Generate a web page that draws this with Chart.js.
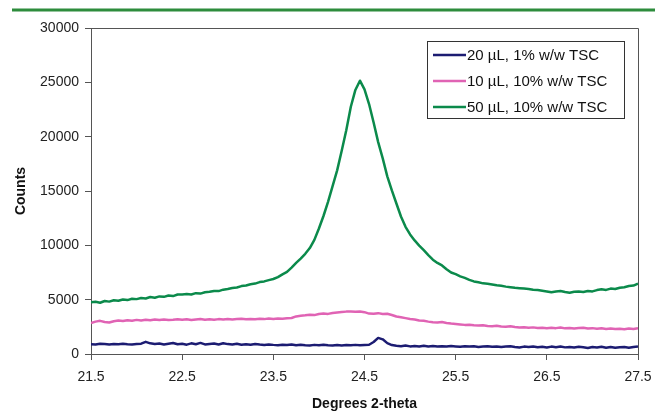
<!DOCTYPE html>
<html>
<head>
<meta charset="utf-8">
<title>XRD patterns</title>
<script src="https://cdn.jsdelivr.net/npm/chart.js@4.4.1/dist/chart.umd.min.js"></script>
<style>
  html, body { margin: 0; padding: 0; background: #fff; }
  #wrap { width: 655px; height: 412px; }
</style>
</head>
<body>
<div id="wrap"><canvas id="xrdChart" width="655" height="412"></canvas></div>
<script>
// scan positions, degrees 2-theta (0.05 step)
const degrees = [
  21.5, 21.55, 21.6, 21.65, 21.7, 21.75, 21.8, 21.85, 21.9, 21.95,
  22.0, 22.05, 22.1, 22.15, 22.2, 22.25, 22.3, 22.35, 22.4, 22.45,
  22.5, 22.55, 22.6, 22.65, 22.7, 22.75, 22.8, 22.85, 22.9, 22.95,
  23.0, 23.05, 23.1, 23.15, 23.2, 23.25, 23.3, 23.35, 23.4, 23.45,
  23.5, 23.55, 23.6, 23.65, 23.7, 23.75, 23.8, 23.85, 23.9, 23.95,
  24.0, 24.05, 24.1, 24.15, 24.2, 24.25, 24.3, 24.35, 24.4, 24.45,
  24.5, 24.55, 24.6, 24.65, 24.7, 24.75, 24.8, 24.85, 24.9, 24.95,
  25.0, 25.05, 25.1, 25.15, 25.2, 25.25, 25.3, 25.35, 25.4, 25.45,
  25.5, 25.55, 25.6, 25.65, 25.7, 25.75, 25.8, 25.85, 25.9, 25.95,
  26.0, 26.05, 26.1, 26.15, 26.2, 26.25, 26.3, 26.35, 26.4, 26.45,
  26.5, 26.55, 26.6, 26.65, 26.7, 26.75, 26.8, 26.85, 26.9, 26.95,
  27.0, 27.05, 27.1, 27.15, 27.2, 27.25, 27.3, 27.35, 27.4, 27.45,
  27.5
];

// 20 uL, 1% w/w TSC
const counts20uL1 = [
  900, 880, 950, 920, 870, 910, 890, 940, 900, 870,
  920, 950, 1120, 980, 930, 960, 880, 950, 1010, 900,
  940, 860, 980, 900, 1020, 880, 930, 960, 870, 990,
  910, 880, 940, 860, 900, 850, 920, 870, 830, 880,
  840, 810, 860, 820, 870, 800, 850, 810, 790, 840,
  800, 860, 810, 780, 830, 790, 820, 800, 840, 800,
  830, 850, 1100, 1480, 1350, 1000, 820, 760, 720, 780,
  700, 740, 690, 760, 700, 730, 680, 720, 690, 740,
  700, 660, 720, 680, 710, 650, 690, 720, 660, 700,
  640, 680, 710, 650, 600, 680, 640, 690, 620, 660,
  600, 680, 630, 690, 610, 650, 590, 660, 620, 560,
  640, 600, 670, 580, 640, 570, 620, 650, 580, 640,
  700
];

// 10 uL, 10% w/w TSC
const counts10uL10 = [
  2850, 2980, 3050, 2950, 2900, 3020, 3080, 3030, 3110, 3060,
  3140, 3090, 3150, 3100, 3170, 3120, 3180, 3130, 3160, 3200,
  3150, 3190, 3130, 3180, 3220, 3160, 3200, 3150, 3210, 3170,
  3230, 3180, 3210, 3240, 3190, 3230, 3200, 3250, 3210, 3260,
  3230, 3270, 3240, 3280, 3310, 3460, 3520, 3560, 3610, 3580,
  3680, 3720, 3690, 3780, 3820, 3860, 3900, 3920, 3890, 3910,
  3850, 3720, 3700, 3760, 3680, 3700, 3590, 3450, 3380, 3300,
  3220, 3180, 3080, 3050, 2980, 2920, 2890, 2940, 2860, 2800,
  2760, 2720, 2680, 2700, 2640, 2620, 2650, 2580, 2560, 2600,
  2530, 2500, 2550, 2480, 2430, 2470, 2420, 2450, 2390, 2420,
  2370, 2410, 2380, 2440, 2360, 2400, 2350, 2390, 2420, 2340,
  2380, 2320, 2360, 2300, 2340, 2290, 2330, 2280, 2340, 2310,
  2370
];

// 50 uL, 10% w/w TSC
const counts50uL10 = [
  4750, 4800, 4720, 4880, 4820, 4950, 4900, 5020, 4960, 5080,
  5050, 5150, 5110, 5240, 5180, 5300, 5260, 5380, 5330, 5470,
  5480, 5520, 5480, 5600, 5560, 5680, 5720, 5800, 5790, 5920,
  5990, 6080, 6120, 6250, 6310, 6420, 6480, 6620, 6680, 6800,
  6900, 7080, 7330, 7560, 7950, 8380, 8780, 9220, 9750, 10500,
  11550, 12700, 14000, 15450, 16900, 18700, 20600, 22750, 24300, 25150,
  24350, 23000, 21300, 19500, 18000, 16350, 15050, 13850, 12650, 11700,
  11000, 10450, 9980, 9550, 9100, 8680, 8380, 8150, 7800, 7500,
  7350, 7150, 7000, 6820, 6680, 6600, 6500, 6470, 6400, 6320,
  6280, 6200, 6150, 6100, 6060, 6020, 5980, 5920, 5880, 5820,
  5760, 5680, 5750, 5800, 5700, 5640, 5720, 5760, 5700, 5800,
  5760, 5880, 5950, 5900, 6020, 5980, 6100, 6150, 6250, 6300,
  6480
];

const seriesLabels = ['20 \u00B5L, 1% w/w TSC', '10 \u00B5L, 10% w/w TSC', '50 \u00B5L, 10% w/w TSC'];
const seriesColors = ['#1c1c72', '#e063b4', '#0b8a4b'];
const xTicks = [21.5, 22.5, 23.5, 24.5, 25.5, 26.5, 27.5];
const yTicks = [0, 5000, 10000, 15000, 20000, 25000, 30000];

const FONT = '"Liberation Sans", Arial, sans-serif';
Chart.defaults.font.family = FONT;
Chart.defaults.font.size = 14;
Chart.defaults.color = '#222';

function toPoints(values) {
  return degrees.map((d, i) => ({ x: d, y: values[i] }));
}

// green rule over the figure, frame round the plot and the boxed legend
const decorations = {
  id: 'decorations',
  beforeDraw(chart) {
    const c = chart.ctx;
    c.save();
    c.fillStyle = '#fff';
    c.fillRect(0, 0, chart.width, chart.height);
    c.strokeStyle = '#2d8c3c';
    c.lineWidth = 3;
    c.beginPath();
    c.moveTo(12, 10);
    c.lineTo(chart.width, 10);
    c.stroke();
    c.restore();
  },
  afterDraw(chart) {
    const c = chart.ctx;
    const a = chart.chartArea;
    c.save();
    c.strokeStyle = '#555';
    c.lineWidth = 1;
    c.beginPath();
    c.moveTo(Math.round(a.left) + 0.5, Math.round(a.top) + 0.5);
    c.lineTo(Math.round(a.right) + 0.5, Math.round(a.top) + 0.5);
    c.lineTo(Math.round(a.right) + 0.5, Math.round(a.bottom) + 0.5);
    c.stroke();

    // legend
    const bx = 427.5, by = 41.5, bw = 197, bh = 77;
    c.fillStyle = '#fff';
    c.fillRect(bx, by, bw, bh);
    c.strokeStyle = '#333';
    c.strokeRect(bx, by, bw, bh);
    const rows = [55, 81, 107];
    c.font = '15px ' + FONT;
    c.textBaseline = 'middle';
    c.textAlign = 'left';
    chart.data.datasets.forEach((ds, i) => {
      c.strokeStyle = ds.borderColor;
      c.lineWidth = 2.5;
      c.beginPath();
      c.moveTo(433, rows[i]);
      c.lineTo(466, rows[i]);
      c.stroke();
      c.fillStyle = '#111';
      c.fillText(ds.label, 467, rows[i] + 1);
    });
    c.restore();
  }
};

new Chart(document.getElementById('xrdChart'), {
  type: 'line',
  data: {
    datasets: [
      { label: seriesLabels[0], data: toPoints(counts20uL1), borderColor: seriesColors[0] },
      { label: seriesLabels[1], data: toPoints(counts10uL10), borderColor: seriesColors[1] },
      { label: seriesLabels[2], data: toPoints(counts50uL10), borderColor: seriesColors[2] }
    ]
  },
  options: {
    responsive: false,
    animation: false,
    layout: { padding: { top: 28, right: 17, left: 0, bottom: 0 } },
    elements: {
      point: { radius: 0 },
      line: { borderWidth: 2.5, tension: 0, borderJoinStyle: 'round' }
    },
    plugins: {
      legend: { display: false },
      tooltip: { enabled: false }
    },
    scales: {
      x: {
        type: 'linear',
        min: 21.5,
        max: 27.5,
        // fixed band height; end labels may overhang the plot edges
        afterFit: s => { s.height = 58; s.paddingLeft = 0; s.paddingRight = 0; },
        afterBuildTicks: s => { s.ticks = xTicks.map(v => ({ value: v })); },
        ticks: { padding: 9, color: '#222', maxRotation: 0, callback: v => v.toFixed(1) },
        grid: { drawOnChartArea: false, tickLength: 6, tickColor: '#555' },
        border: { color: '#555' },
        title: {
          display: true,
          text: 'Degrees 2-theta',
          color: '#111',
          font: { size: 14, weight: 'bold' },
          padding: { top: 0, bottom: -1 }
        }
      },
      y: {
        min: 0,
        max: 30000,
        afterFit: s => { s.width = 91; s.paddingTop = 0; s.paddingBottom = 0; },
        afterBuildTicks: s => { s.ticks = yTicks.map(v => ({ value: v })); },
        ticks: { padding: 6, color: '#222', callback: v => String(v) },
        grid: { drawOnChartArea: false, tickLength: 6, tickColor: '#555' },
        border: { color: '#555' },
        title: {
          display: true,
          text: 'Counts',
          color: '#111',
          font: { size: 14, weight: 'bold' },
          padding: { top: 13, bottom: 0 }
        }
      }
    }
  },
  plugins: [decorations]
});
</script>
</body>
</html>
